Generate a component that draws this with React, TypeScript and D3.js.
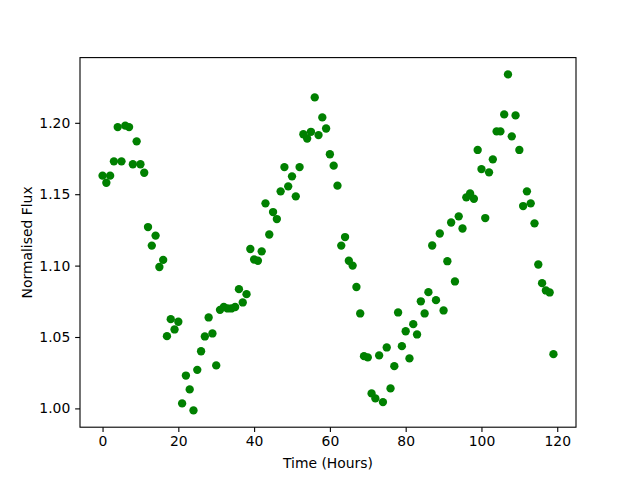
import React, { useEffect, useRef } from "react";
import * as d3 from "d3";

// hourly normalised flux readings
const hours = d3.range(0, 120);
const flux = [
  1.163, 1.158, 1.163, 1.173, 1.197, 1.173, 1.198, 1.197, 1.171, 1.187,
  1.171, 1.165, 1.127, 1.114, 1.121, 1.099, 1.104, 1.0506, 1.0625, 1.0553,
  1.0607, 1.0035, 1.023, 1.0133, 0.9986, 1.027, 1.04, 1.0504, 1.0637, 1.0525,
  1.0301, 1.069, 1.071, 1.07, 1.07, 1.071, 1.0835, 1.0742, 1.08, 1.1116,
  1.1043, 1.1034, 1.11, 1.1436, 1.1218, 1.1375, 1.1326, 1.152, 1.169, 1.1555,
  1.1625, 1.1485, 1.169, 1.192, 1.189, 1.1937, 1.2178, 1.1914, 1.2038, 1.196,
  1.178, 1.17, 1.156, 1.114, 1.12, 1.1034, 1.1, 1.085, 1.0665, 1.0366,
  1.0357, 1.0105, 1.007, 1.0371, 1.0044, 1.0427, 1.014, 1.0296, 1.0672, 1.0436,
  1.054, 1.035, 1.059, 1.0518, 1.075, 1.0665, 1.0814, 1.1141, 1.0758, 1.1225,
  1.0686, 1.1031, 1.1302, 1.0889, 1.1345, 1.126, 1.1478, 1.1505, 1.1468, 1.181,
  1.1676, 1.1333, 1.1653, 1.1744, 1.194, 1.194, 1.2059, 1.2339, 1.1905, 1.2052,
  1.181, 1.1417, 1.152, 1.1436, 1.1296, 1.1008, 1.0877, 1.0826, 1.0812, 1.038,
];
const xTicks = [0, 20, 40, 60, 80, 100, 120];
const yTicks = [1.0, 1.05, 1.1, 1.15, 1.2];

const W = 640;
const H = 480;
const margin = { left: 80, right: 64, top: 57.6, bottom: 52.8 };

const App = () => {
  const svgRef = useRef<SVGSVGElement>(null);

  useEffect(() => {
    const svg = d3.select(svgRef.current);
    svg.selectAll("*").remove();

    // matplotlib style 5% padding on both axes
    const xExt = d3.extent(hours) as [number, number];
    const yExt = d3.extent(flux) as [number, number];
    const xPad = (xExt[1] - xExt[0]) * 0.05;
    const yPad = (yExt[1] - yExt[0]) * 0.05;

    const x = d3
      .scaleLinear()
      .domain([xExt[0] - xPad, xExt[1] + xPad])
      .range([margin.left, W - margin.right]);
    const y = d3
      .scaleLinear()
      .domain([yExt[0] - yPad, yExt[1] + yPad])
      .range([H - margin.bottom, margin.top]);

    const font = "DejaVu Sans, sans-serif";

    //x axis
    const xAxis = d3
      .axisBottom(x)
      .tickValues(xTicks)
      .tickSize(4.86)
      .tickPadding(4.5)
      .tickFormat(d3.format("d"));
    const gx = svg
      .append("g")
      .attr("transform", `translate(0,${H - margin.bottom})`)
      .call(xAxis);

    //y axis
    const yAxis = d3
      .axisLeft(y)
      .tickValues(yTicks)
      .tickSize(4.86)
      .tickPadding(4.86)
      .tickFormat(d3.format(".2f"));
    const gy = svg
      .append("g")
      .attr("transform", `translate(${margin.left},0)`)
      .call(yAxis);

    [gx, gy].forEach((g) => {
      g.select(".domain").remove();
      g.selectAll("line").attr("stroke", "#000").attr("stroke-width", 1.1);
      g.selectAll("text")
        .attr("font-family", font)
        .attr("font-size", 13.9)
        .attr("fill", "#000");
    });

    // frame
    svg
      .append("rect")
      .attr("x", margin.left)
      .attr("y", margin.top)
      .attr("width", W - margin.left - margin.right)
      .attr("height", H - margin.top - margin.bottom)
      .attr("fill", "none")
      .attr("stroke", "#000")
      .attr("stroke-width", 1.1);

    // points
    svg
      .append("g")
      .selectAll("circle")
      .data(hours)
      .join("circle")
      .attr("cx", (d) => x(d))
      .attr("cy", (d, i) => y(flux[i]))
      .attr("r", 4.17)
      .attr("fill", "#008000");

    svg
      .append("text")
      .attr("x", (margin.left + W - margin.right) / 2)
      .attr("y", 468)
      .attr("text-anchor", "middle")
      .attr("font-family", font)
      .attr("font-size", 13.9)
      .text("Time (Hours)");

    svg
      .append("text")
      .attr("transform", `translate(32,${(margin.top + H - margin.bottom) / 2}) rotate(-90)`)
      .attr("text-anchor", "middle")
      .attr("font-family", font)
      .attr("font-size", 13.9)
      .text("Normalised Flux");
  }, []);

  return (
    <svg
      ref={svgRef}
      width={W}
      height={H}
      style={{ position: "absolute", left: 0, top: 0, background: "#fff" }}
    />
  );
};

export default App;
